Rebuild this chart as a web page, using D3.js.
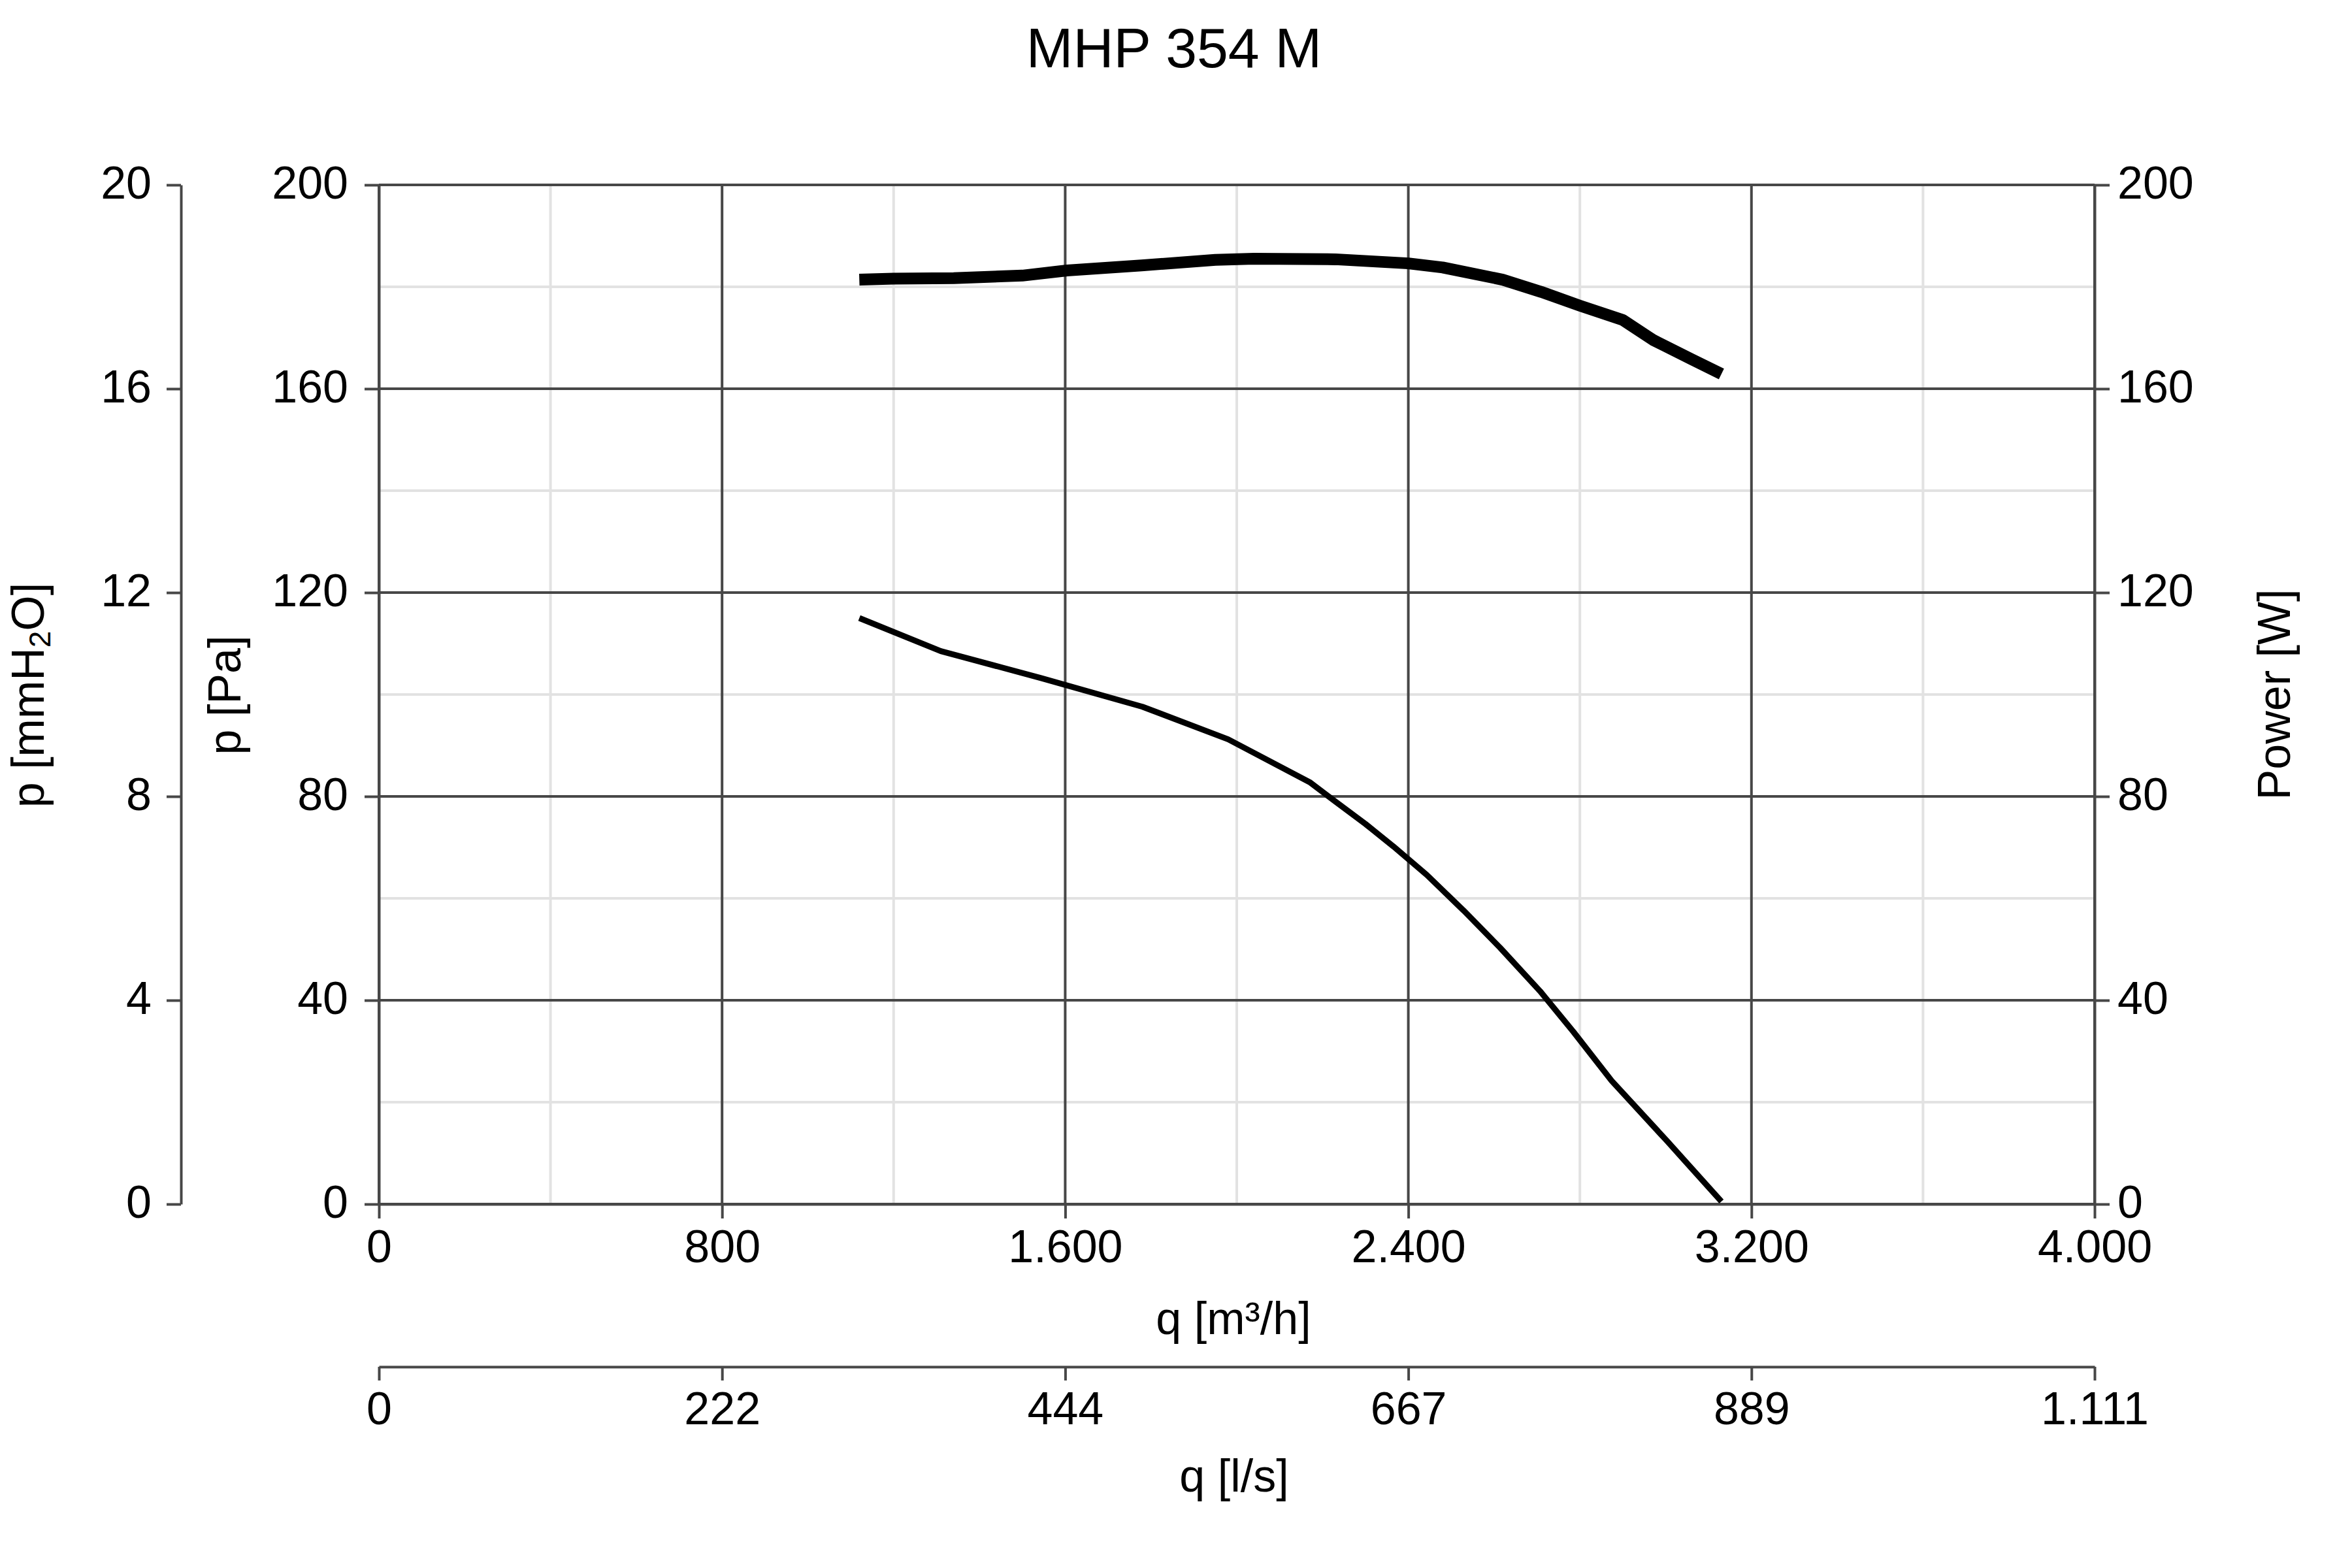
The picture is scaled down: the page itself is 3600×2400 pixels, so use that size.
<!DOCTYPE html>
<html>
<head>
<meta charset="utf-8">
<script src="https://cdn.jsdelivr.net/npm/d3@7"></script>
<style>
  html, body { margin: 0; padding: 0; background: #fff; }
  svg { display: block; }
  text { font-family: "Liberation Sans", Arial, Helvetica, sans-serif; fill: #000; }
</style>
</head>
<body>
<svg id="chart" width="3600" height="2400"></svg>
<script>
// ---------- data ----------
const chartTitle = "MHP 354 M";
const qTicks = [0, 800, 1600, 2400, 3200, 4000];
const qTickLabels = ["0", "800", "1.600", "2.400", "3.200", "4.000"];
const lsTickLabels = ["0", "222", "444", "667", "889", "1.111"];
const qMinor = [400, 1200, 2000, 2800, 3600];
const paTicks = [0, 40, 80, 120, 160, 200];
const paMinor = [20, 60, 100, 140, 180];
const mmTicks = [0, 4, 8, 12, 16, 20];
const wTicks = [0, 40, 80, 120, 160, 200];

// pressure curve (Pa)
const pressQ = [1120, 1310, 1545, 1780, 1980, 2170, 2230, 2300, 2365, 2443, 2529, 2614, 2707, 2785, 2874, 3003, 3130];
const pressP = [115, 108.5, 103.2, 97.6, 91.2, 82.8, 79.0, 74.6, 70.2, 64.6, 57.6, 50.3, 41.8, 33.8, 24.2, 12.4, 0.5];

// power curve (W)
const powQ = [1120, 1200, 1340, 1500, 1604, 1778, 1950, 2040, 2230, 2400, 2480, 2620, 2710, 2800, 2900, 2970, 3060, 3130];
const powW = [181.4, 181.6, 181.7, 182.2, 183.2, 184.2, 185.3, 185.5, 185.4, 184.6, 183.8, 181.4, 179.0, 176.3, 173.5, 169.6, 165.8, 162.9];

// ---------- layout ----------
const L = 580, R = 3206, T = 283, B = 1843;
const axisColor = "#474747";
const minorColor = "#e2e2e2";
const fs = 70;

const svg = d3.select("#chart");

const x = d3.scaleLinear().domain([0, 4000]).range([L, R]);
const yPa = d3.scaleLinear().domain([0, 200]).range([B, T]);
const yMm = d3.scaleLinear().domain([0, 20]).range([B, T]);
const yW = d3.scaleLinear().domain([0, 200]).range([B, T]);

// minor grid
const grid = svg.append("g");
grid.selectAll("line.vmin").data(qMinor).join("line")
  .attr("x1", d => x(d)).attr("x2", d => x(d)).attr("y1", T).attr("y2", B)
  .attr("stroke", minorColor).attr("stroke-width", 4);
grid.selectAll("line.hmin").data(paMinor).join("line")
  .attr("x1", L).attr("x2", R).attr("y1", d => yPa(d)).attr("y2", d => yPa(d))
  .attr("stroke", minorColor).attr("stroke-width", 4);
// major grid
grid.selectAll("line.vmaj").data(qTicks).join("line")
  .attr("x1", d => x(d)).attr("x2", d => x(d)).attr("y1", T).attr("y2", B)
  .attr("stroke", axisColor).attr("stroke-width", 4);
grid.selectAll("line.hmaj").data(paTicks).join("line")
  .attr("x1", L).attr("x2", R).attr("y1", d => yPa(d)).attr("y2", d => yPa(d))
  .attr("stroke", axisColor).attr("stroke-width", 4);

function styleAxis(g) {
  g.select(".domain").attr("stroke", axisColor).attr("stroke-width", 4);
  g.selectAll(".tick line").attr("stroke", axisColor).attr("stroke-width", 4);
  g.selectAll(".tick text").attr("font-size", fs).attr("fill", "#000")
    .style("font-family", '"Liberation Sans", Arial, sans-serif');
}

// left mmH2O axis
const gMm = svg.append("g").attr("transform", `translate(277,0)`)
  .call(d3.axisLeft(yMm).tickValues(mmTicks).tickSize(22).tickSizeOuter(0).tickPadding(23));
styleAxis(gMm);
gMm.selectAll(".tick text").attr("dy", 20);

// Pa axis
const gPa = svg.append("g").attr("transform", `translate(${L},0)`)
  .call(d3.axisLeft(yPa).tickValues(paTicks).tickSize(22).tickSizeOuter(0).tickPadding(25));
styleAxis(gPa);
gPa.selectAll(".tick text").attr("dy", 20);

// right W axis
const gW = svg.append("g").attr("transform", `translate(${R},0)`)
  .call(d3.axisRight(yW).tickValues(wTicks).tickSize(23).tickSizeOuter(0).tickPadding(12));
styleAxis(gW);
gW.selectAll(".tick text").attr("dy", 20);

// bottom m3/h axis
const gQ = svg.append("g").attr("transform", `translate(0,${B})`)
  .call(d3.axisBottom(x).tickValues(qTicks).tickFormat((d, i) => qTickLabels[i]).tickSize(22).tickSizeOuter(0));
styleAxis(gQ);
gQ.selectAll(".tick text").attr("y", 89).attr("dy", 0);

// l/s axis
const gLs = svg.append("g").attr("transform", `translate(0,2092)`)
  .call(d3.axisBottom(x).tickValues(qTicks).tickFormat((d, i) => lsTickLabels[i]).tickSize(21).tickSizeOuter(0));
styleAxis(gLs);
gLs.selectAll(".tick text").attr("y", 88).attr("dy", 0);

// curves
const lineP = d3.line().x((d, i) => x(pressQ[i])).y(d => yPa(d)).curve(d3.curveLinear);
const lineW = d3.line().x((d, i) => x(powQ[i])).y(d => yW(d)).curve(d3.curveLinear);

svg.append("path").datum(powW).attr("d", lineW)
  .attr("fill", "none").attr("stroke", "#000").attr("stroke-width", 18)
  .attr("stroke-linejoin", "round").attr("stroke-linecap", "butt");
svg.append("path").datum(pressP).attr("d", lineP)
  .attr("fill", "none").attr("stroke", "#000").attr("stroke-width", 9)
  .attr("stroke-linejoin", "round").attr("stroke-linecap", "butt");

// title
svg.append("text").attr("x", 1797).attr("y", 103).attr("text-anchor", "middle")
  .attr("font-size", 86).text(chartTitle);

// axis titles
svg.append("text").attr("x", 1888).attr("y", 2042).attr("text-anchor", "middle")
  .attr("font-size", fs).text("q [m³/h]");
svg.append("text").attr("x", 1889).attr("y", 2283).attr("text-anchor", "middle")
  .attr("font-size", fs).text("q [l/s]");

const tMm = svg.append("text").attr("transform", "translate(67,1064) rotate(-90)")
  .attr("text-anchor", "middle").attr("font-size", fs);
tMm.append("tspan").text("p [mmH");
tMm.append("tspan").attr("font-size", 46).attr("dy", 10).text("2");
tMm.append("tspan").attr("dy", -10).text("O]");

svg.append("text").attr("transform", "translate(368,1064) rotate(-90)")
  .attr("text-anchor", "middle").attr("font-size", fs).text("p [Pa]");
svg.append("text").attr("transform", "translate(3505,1063) rotate(-90)")
  .attr("text-anchor", "middle").attr("font-size", fs).text("Power [W]");
</script>
</body>
</html>
